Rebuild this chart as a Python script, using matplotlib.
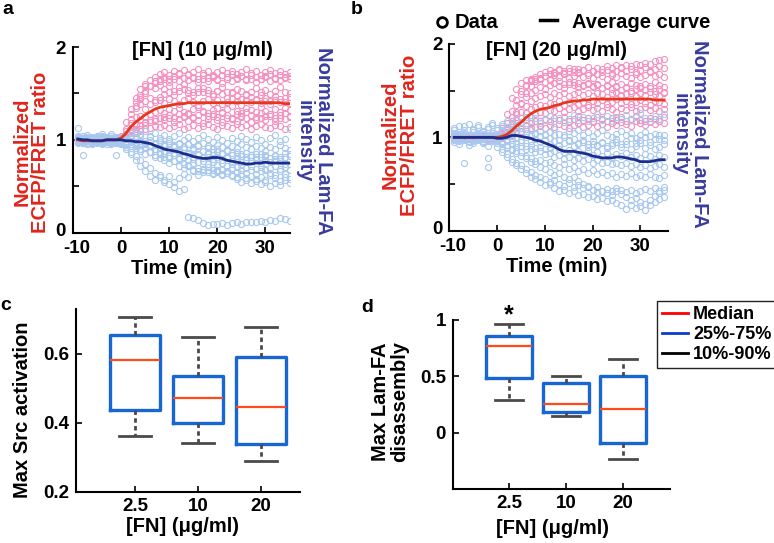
import matplotlib
matplotlib.use("Agg")
import matplotlib.pyplot as plt
from matplotlib.lines import Line2D
from matplotlib.transforms import ScaledTranslation

# ---------------------------------------------------------------- data
time_min = [-9, -8, -7, -6, -5, -4, -3, -2, -1,
            0, 1, 2, 3, 4, 5, 6, 7, 8,
            9, 10, 11, 12, 13, 14, 15, 16, 17,
            18, 19, 20, 21, 22, 23, 24, 25, 26,
            27, 28, 29, 30, 31, 32, 33, 34, 35]

# panel a, [FN] 10 ug/ml : single-cell ECFP/FRET ratio traces
fret_10 = [
    [1.00, 1.01, 0.99, 1.00, 1.02, 0.99, 1.00, 1.01, 1.00,
     1.01, 1.06, 1.18, 1.34, 1.48, 1.58, 1.64, 1.68, 1.71,
     1.73, 1.70, 1.74, 1.72, 1.75, 1.71, 1.73, 1.76, 1.72,
     1.74, 1.70, 1.73, 1.75, 1.72, 1.74, 1.71, 1.73, 1.76,
     1.72, 1.74, 1.70, 1.73, 1.75, 1.72, 1.74, 1.71, 1.73],
    [0.99, 1.00, 1.01, 0.98, 1.00, 1.01, 0.99, 1.00, 1.02,
     1.03, 1.10, 1.22, 1.36, 1.46, 1.53, 1.58, 1.61, 1.63,
     1.65, 1.62, 1.66, 1.63, 1.60, 1.64, 1.67, 1.62, 1.65,
     1.63, 1.68, 1.64, 1.61, 1.66, 1.63, 1.65, 1.69, 1.64,
     1.66, 1.62, 1.65, 1.68, 1.63, 1.66, 1.64, 1.67, 1.65],
    [1.01, 0.99, 1.00, 1.02, 0.98, 1.00, 1.01, 0.99, 1.00,
     1.00, 1.03, 1.09, 1.17, 1.26, 1.33, 1.39, 1.43, 1.46,
     1.49, 1.51, 1.48, 1.53, 1.55, 1.50, 1.52, 1.56, 1.51,
     1.54, 1.49, 1.53, 1.57, 1.52, 1.50, 1.55, 1.53, 1.48,
     1.52, 1.56, 1.51, 1.54, 1.49, 1.53, 1.57, 1.52, 1.50],
    [1.00, 1.02, 0.99, 1.01, 1.00, 0.98, 1.01, 1.00, 0.99,
     1.04, 1.19, 1.33, 1.41, 1.44, 1.42, 1.45, 1.41, 1.43,
     1.40, 1.44, 1.42, 1.39, 1.43, 1.45, 1.41, 1.38, 1.42,
     1.44, 1.40, 1.43, 1.39, 1.41, 1.45, 1.42, 1.38, 1.43,
     1.41, 1.44, 1.40, 1.42, 1.39, 1.43, 1.41, 1.45, 1.40],
    [0.98, 1.00, 1.01, 0.99, 1.00, 1.02, 1.00, 0.99, 1.01,
     1.02, 1.05, 1.10, 1.16, 1.21, 1.25, 1.28, 1.30, 1.32,
     1.29, 1.33, 1.31, 1.34, 1.30, 1.28, 1.33, 1.35, 1.31,
     1.29, 1.32, 1.34, 1.30, 1.33, 1.36, 1.31, 1.29, 1.34,
     1.32, 1.30, 1.35, 1.31, 1.28, 1.33, 1.30, 1.34, 1.32],
    [1.00, 0.99, 1.01, 1.00, 0.98, 1.01, 1.00, 1.02, 0.99,
     1.01, 1.03, 1.07, 1.12, 1.16, 1.19, 1.21, 1.20, 1.23,
     1.21, 1.24, 1.19, 1.22, 1.25, 1.20, 1.23, 1.21, 1.18,
     1.22, 1.26, 1.21, 1.19, 1.24, 1.22, 1.20, 1.25, 1.23,
     1.19, 1.22, 1.24, 1.21, 1.26, 1.20, 1.23, 1.22, 1.25],
    [1.01, 1.00, 0.99, 1.02, 1.00, 1.01, 0.99, 1.00, 1.00,
     0.99, 1.01, 1.04, 1.07, 1.10, 1.12, 1.13, 1.15, 1.14,
     1.16, 1.13, 1.15, 1.17, 1.12, 1.14, 1.16, 1.13, 1.15,
     1.17, 1.14, 1.12, 1.16, 1.15, 1.13, 1.17, 1.14, 1.16,
     1.12, 1.15, 1.17, 1.14, 1.13, 1.16, 1.15, 1.12, 1.14],
    [0.99, 1.01, 1.00, 0.98, 1.01, 1.00, 1.02, 0.99, 1.01,
     1.02, 1.12, 1.28, 1.45, 1.55, 1.60, 1.58, 1.56, 1.59,
     1.55, 1.58, 1.53, 1.57, 1.60, 1.54, 1.48, 1.52, 1.56,
     1.50, 1.47, 1.53, 1.49, 1.45, 1.51, 1.47, 1.44, 1.49,
     1.46, 1.43, 1.48, 1.45, 1.42, 1.47, 1.44, 1.41, 1.46],
    [1.00, 1.01, 0.99, 1.00, 1.01, 0.98, 1.00, 1.01, 0.99,
     1.00, 1.02, 1.04, 1.08, 1.12, 1.16, 1.19, 1.22, 1.24,
     1.25, 1.27, 1.24, 1.28, 1.26, 1.29, 1.25, 1.27, 1.30,
     1.26, 1.28, 1.25, 1.29, 1.27, 1.24, 1.28, 1.26, 1.30,
     1.27, 1.25, 1.29, 1.26, 1.28, 1.24, 1.27, 1.29, 1.26],
    [1.00, 0.99, 1.00, 1.01, 0.99, 1.00, 1.02, 1.00, 0.98,
     1.01, 1.04, 1.12, 1.25, 1.39, 1.50, 1.58, 1.63, 1.66,
     1.68, 1.66, 1.69, 1.71, 1.67, 1.70, 1.68, 1.66, 1.70,
     1.67, 1.69, 1.66, 1.70, 1.68, 1.71, 1.67, 1.69, 1.66,
     1.70, 1.68, 1.66, 1.69, 1.71, 1.67, 1.70, 1.68, 1.69],
]

# panel a : single-cell Lam-FA intensity traces
lamfa_10 = [
    [1.03, 0.98, 1.05, 1.01, 0.97, 1.04, 1.00, 1.06, 0.99,
     1.02, 1.05, 1.08, 1.03, 1.06, 1.10, 1.04, 1.07, 1.02,
     1.05, 1.01, 1.04, 1.07, 1.00, 1.03, 0.99, 1.02, 1.05,
     1.01, 0.98, 1.03, 1.00, 0.97, 1.02, 0.99, 1.04, 1.01,
     0.98, 1.03, 1.00, 0.96, 1.02, 1.05, 0.99, 1.01, 1.12],
    [0.98, 1.02, 0.96, 1.00, 1.03, 0.97, 1.01, 0.99, 1.02,
     1.00, 0.98, 1.01, 0.97, 0.99, 0.96, 1.00, 0.95, 0.98,
     0.94, 0.97, 0.93, 0.96, 0.92, 0.95, 0.91, 0.94, 0.97,
     0.93, 0.90, 0.94, 0.92, 0.89, 0.93, 0.91, 0.95, 0.92,
     0.90, 0.93, 0.91, 0.88, 0.92, 0.90, 0.94, 0.91, 0.89],
    [1.01, 0.97, 1.03, 0.99, 1.02, 0.95, 1.00, 1.04, 0.98,
     0.99, 1.01, 0.96, 0.98, 0.94, 0.97, 0.93, 0.95, 0.91,
     0.93, 0.89, 0.92, 0.88, 0.90, 0.86, 0.89, 0.85, 0.88,
     0.86, 0.84, 0.87, 0.85, 0.82, 0.86, 0.83, 0.85, 0.81,
     0.84, 0.82, 0.85, 0.83, 0.80, 0.84, 0.82, 0.86, 0.83],
    [0.99, 1.04, 1.00, 0.96, 1.01, 1.03, 0.98, 1.00, 0.97,
     1.01, 0.97, 0.99, 0.95, 0.96, 0.92, 0.94, 0.90, 0.91,
     0.88, 0.90, 0.86, 0.87, 0.84, 0.85, 0.82, 0.84, 0.80,
     0.82, 0.79, 0.81, 0.78, 0.80, 0.77, 0.79, 0.76, 0.78,
     0.77, 0.79, 0.75, 0.78, 0.76, 0.79, 0.77, 0.74, 0.78],
    [1.02, 0.99, 1.01, 0.97, 1.00, 1.02, 0.99, 0.96, 1.01,
     0.98, 0.96, 0.93, 0.94, 0.90, 0.91, 0.87, 0.88, 0.85,
     0.86, 0.83, 0.84, 0.80, 0.81, 0.78, 0.79, 0.76, 0.77,
     0.74, 0.76, 0.73, 0.75, 0.72, 0.74, 0.71, 0.73, 0.70,
     0.72, 0.69, 0.71, 0.68, 0.70, 0.72, 0.69, 0.71, 0.68],
    [1.00, 0.97, 1.02, 1.00, 0.98, 1.01, 1.03, 0.99, 1.00,
     0.97, 0.94, 0.95, 0.91, 0.88, 0.85, 0.87, 0.82, 0.80,
     0.78, 0.75, 0.77, 0.72, 0.70, 0.73, 0.68, 0.66, 0.69,
     0.65, 0.63, 0.66, 0.62, 0.64, 0.61, 0.60, 0.63, 0.59,
     0.61, 0.58, 0.60, 0.57, 0.62, 0.59, 0.56, 0.60, 0.58],
    [0.97, 1.01, 0.99, 1.03, 0.98, 1.00, 0.96, 1.02, 1.00,
     0.95, 0.90, 0.85, 0.78, 0.72, 0.66, 0.61, 0.57, 0.62,
     0.55, 0.52, 0.49, 0.45, 0.47, 0.17, 0.16, 0.14, 0.10,
     0.08, 0.09, 0.09, 0.10, 0.08, 0.10, 0.11, 0.09, 0.11,
     0.12, 0.11, 0.13, 0.12, 0.14, 0.13, 0.16, 0.15, 0.13],
    [1.04, 1.00, 0.97, 1.02, 0.99, 1.06, 1.01, 0.98, 1.03,
     1.00, 0.96, 0.98, 0.93, 0.90, 0.92, 0.87, 0.84, 0.86,
     0.82, 0.80, 0.77, 0.79, 0.74, 0.72, 0.75, 0.70, 0.68,
     0.71, 0.67, 0.65, 0.68, 0.64, 0.62, 0.58, 0.55, 0.57,
     0.53, 0.56, 0.52, 0.55, 0.50, 0.54, 0.51, 0.57, 0.53],
    [1.13, 1.02, 1.00, 0.98, 1.04, 0.99, 1.02, 0.97, 0.84,
     1.03, 1.06, 1.02, 1.08, 1.04, 0.99, 1.03, 0.97, 1.00,
     0.96, 0.99, 0.94, 0.97, 0.92, 0.95, 0.90, 0.93, 0.88,
     0.91, 0.87, 0.90, 0.86, 0.88, 0.84, 0.87, 0.83, 0.86,
     0.82, 0.85, 0.81, 0.84, 0.80, 0.83, 0.79, 0.82, 0.85],
    [1.00, 0.84, 1.01, 0.99, 1.02, 0.98, 1.00, 1.01, 0.97,
     0.96, 0.92, 0.87, 0.83, 0.78, 0.74, 0.70, 0.64, 0.60,
     0.57, 0.61, 0.55, 0.59, 0.63, 0.60, 0.66, 0.62, 0.65,
     0.68, 0.64, 0.67, 0.63, 0.66, 0.70, 0.65, 0.68, 0.64,
     0.67, 0.63, 0.66, 0.69, 0.64, 0.62, 0.66, 0.63, 0.67],
]

# panel b, [FN] 20 ug/ml
fret_20 = [
    [1.00, 1.01, 0.99, 1.00, 1.02, 0.99, 1.00, 1.01, 0.99,
     1.00, 1.03, 1.10, 1.22, 1.35, 1.46, 1.55, 1.61, 1.65,
     1.68, 1.70, 1.72, 1.69, 1.73, 1.71, 1.74, 1.70, 1.73,
     1.72, 1.75, 1.71, 1.74, 1.73, 1.76, 1.74, 1.77, 1.75,
     1.78, 1.76, 1.79, 1.77, 1.80, 1.79, 1.82, 1.83, 1.84],
    [0.99, 1.00, 1.01, 1.00, 0.98, 1.01, 1.00, 0.99, 1.01,
     1.01, 1.05, 1.15, 1.28, 1.40, 1.50, 1.56, 1.60, 1.62,
     1.64, 1.66, 1.63, 1.67, 1.65, 1.68, 1.64, 1.66, 1.69,
     1.65, 1.67, 1.64, 1.68, 1.66, 1.63, 1.67, 1.65, 1.69,
     1.66, 1.64, 1.68, 1.65, 1.67, 1.70, 1.66, 1.68, 1.65],
    [1.01, 0.99, 1.00, 1.02, 1.00, 0.99, 1.01, 1.00, 1.00,
     0.99, 1.02, 1.08, 1.17, 1.27, 1.36, 1.43, 1.48, 1.51,
     1.54, 1.52, 1.56, 1.58, 1.55, 1.53, 1.57, 1.59, 1.54,
     1.56, 1.58, 1.55, 1.57, 1.53, 1.56, 1.59, 1.55, 1.57,
     1.54, 1.58, 1.56, 1.53, 1.57, 1.55, 1.59, 1.56, 1.54],
    [1.00, 1.00, 0.99, 1.01, 1.00, 1.02, 0.99, 1.00, 1.01,
     1.00, 1.01, 1.05, 1.11, 1.19, 1.27, 1.34, 1.39, 1.42,
     1.44, 1.46, 1.43, 1.47, 1.45, 1.48, 1.44, 1.46, 1.49,
     1.45, 1.47, 1.44, 1.48, 1.46, 1.43, 1.47, 1.49, 1.45,
     1.46, 1.48, 1.44, 1.47, 1.45, 1.49, 1.46, 1.44, 1.47],
    [0.99, 1.01, 1.00, 0.99, 1.01, 1.00, 1.00, 0.98, 1.00,
     1.01, 1.02, 1.04, 1.09, 1.15, 1.21, 1.26, 1.30, 1.33,
     1.35, 1.34, 1.37, 1.36, 1.39, 1.35, 1.38, 1.40, 1.36,
     1.38, 1.35, 1.39, 1.37, 1.40, 1.36, 1.38, 1.41, 1.37,
     1.39, 1.36, 1.38, 1.40, 1.37, 1.35, 1.39, 1.38, 1.36],
    [1.00, 0.99, 1.01, 1.00, 1.00, 1.01, 0.99, 1.00, 1.01,
     1.00, 1.01, 1.03, 1.06, 1.10, 1.15, 1.19, 1.22, 1.25,
     1.27, 1.26, 1.29, 1.28, 1.31, 1.27, 1.30, 1.32, 1.28,
     1.30, 1.33, 1.29, 1.31, 1.28, 1.32, 1.30, 1.27, 1.31,
     1.29, 1.32, 1.28, 1.30, 1.33, 1.29, 1.31, 1.28, 1.30],
    [1.01, 1.00, 1.00, 0.99, 1.00, 1.01, 1.00, 0.99, 1.00,
     0.99, 1.00, 1.02, 1.04, 1.07, 1.10, 1.13, 1.15, 1.17,
     1.18, 1.20, 1.17, 1.21, 1.19, 1.22, 1.18, 1.20, 1.23,
     1.19, 1.21, 1.18, 1.22, 1.20, 1.17, 1.21, 1.19, 1.22,
     1.18, 1.20, 1.23, 1.19, 1.17, 1.21, 1.20, 1.18, 1.22],
    [1.00, 1.01, 0.99, 1.00, 1.00, 0.99, 1.01, 1.00, 1.00,
     1.00, 1.00, 1.01, 1.03, 1.05, 1.07, 1.09, 1.10, 1.11,
     1.12, 1.10, 1.13, 1.11, 1.14, 1.12, 1.10, 1.13, 1.15,
     1.11, 1.13, 1.16, 1.12, 1.14, 1.11, 1.15, 1.13, 1.16,
     1.14, 1.12, 1.17, 1.15, 1.13, 1.16, 1.14, 1.17, 1.15],
    [1.00, 0.99, 1.00, 1.01, 1.00, 1.00, 0.99, 1.01, 1.00,
     1.02, 1.10, 1.25, 1.42, 1.52, 1.58, 1.61, 1.63, 1.60,
     1.62, 1.59, 1.61, 1.58, 1.60, 1.57, 1.59, 1.56, 1.58,
     1.55, 1.57, 1.54, 1.56, 1.53, 1.55, 1.52, 1.54, 1.51,
     1.53, 1.50, 1.52, 1.55, 1.51, 1.53, 1.50, 1.52, 1.49],
    [1.00, 1.00, 1.01, 0.99, 1.00, 1.00, 1.01, 1.00, 0.99,
     1.00, 1.02, 1.06, 1.14, 1.25, 1.37, 1.47, 1.55, 1.60,
     1.63, 1.66, 1.68, 1.70, 1.72, 1.69, 1.71, 1.73, 1.70,
     1.72, 1.69, 1.71, 1.68, 1.70, 1.72, 1.69, 1.71, 1.74,
     1.71, 1.73, 1.70, 1.72, 1.75, 1.71, 1.73, 1.76, 1.74],
]

lamfa_20 = [
    [1.08, 1.12, 1.05, 1.14, 1.09, 1.13, 1.06, 1.11, 1.15,
     1.10, 1.14, 1.18, 1.13, 1.20, 1.16, 1.22, 1.17, 1.21,
     1.15, 1.19, 1.23, 1.18, 1.21, 1.16, 1.20, 1.24, 1.19,
     1.22, 1.17, 1.21, 1.25, 1.19, 1.23, 1.18, 1.22, 1.20,
     1.24, 1.19, 1.22, 1.26, 1.21, 1.18, 1.23, 1.20, 1.25],
    [1.02, 0.97, 1.04, 1.00, 1.06, 0.98, 1.03, 1.01, 1.05,
     1.03, 1.07, 1.04, 1.09, 1.06, 1.10, 1.05, 1.08, 1.04,
     1.07, 1.03, 1.06, 1.09, 1.04, 1.02, 1.07, 1.05, 1.08,
     1.03, 1.06, 1.01, 1.05, 1.08, 1.03, 1.00, 1.04, 1.07,
     1.02, 1.05, 0.99, 1.03, 1.06, 1.01, 1.04, 0.98, 1.02],
    [0.95, 1.01, 0.98, 1.03, 0.96, 1.00, 0.94, 0.99, 1.02,
     0.98, 1.02, 1.05, 1.01, 0.99, 0.97, 1.00, 0.96, 0.98,
     0.95, 0.97, 0.93, 0.96, 0.92, 0.94, 0.97, 0.91, 0.93,
     0.95, 0.90, 0.93, 0.91, 0.94, 0.89, 0.92, 0.95, 0.90,
     0.93, 0.88, 0.91, 0.94, 0.89, 0.92, 0.87, 0.90, 0.93],
    [0.98, 0.93, 1.00, 0.96, 1.02, 0.97, 0.99, 0.91, 0.97,
     0.96, 0.99, 1.01, 0.97, 0.94, 0.95, 0.91, 0.92, 0.89,
     0.90, 0.87, 0.89, 0.85, 0.88, 0.84, 0.86, 0.83, 0.85,
     0.82, 0.85, 0.81, 0.84, 0.80, 0.83, 0.79, 0.82, 0.80,
     0.83, 0.79, 0.81, 0.78, 0.82, 0.80, 0.77, 0.81, 0.79],
    [1.00, 0.96, 1.03, 0.92, 0.98, 1.01, 0.95, 1.00, 0.97,
     0.99, 0.95, 0.97, 0.93, 0.90, 0.91, 0.87, 0.88, 0.84,
     0.85, 0.82, 0.83, 0.79, 0.81, 0.77, 0.79, 0.76, 0.78,
     0.75, 0.77, 0.73, 0.76, 0.72, 0.74, 0.71, 0.73, 0.70,
     0.72, 0.69, 0.71, 0.68, 0.70, 0.67, 0.69, 0.71, 0.68],
    [0.97, 1.04, 0.99, 1.01, 0.94, 1.03, 0.98, 1.02, 0.96,
     0.97, 0.93, 0.90, 0.86, 0.83, 0.84, 0.80, 0.78, 0.75,
     0.76, 0.72, 0.74, 0.70, 0.68, 0.71, 0.66, 0.68, 0.64,
     0.66, 0.62, 0.65, 0.61, 0.63, 0.60, 0.62, 0.58, 0.61,
     0.59, 0.62, 0.58, 0.60, 0.57, 0.61, 0.58, 0.56, 0.60],
    [1.01, 0.98, 0.72, 1.00, 0.97, 1.02, 0.99, 0.96, 1.00,
     0.94, 0.88, 0.82, 0.77, 0.73, 0.70, 0.66, 0.63, 0.60,
     0.57, 0.55, 0.52, 0.54, 0.50, 0.48, 0.51, 0.47, 0.49,
     0.46, 0.48, 0.44, 0.47, 0.43, 0.45, 0.42, 0.46, 0.44,
     0.41, 0.44, 0.40, 0.43, 0.45, 0.42, 0.46, 0.43, 0.47],
    [0.99, 1.03, 0.97, 1.01, 0.99, 1.04, 0.96, 0.68, 1.01,
     0.90, 0.84, 0.79, 0.74, 0.70, 0.66, 0.62, 0.58, 0.55,
     0.52, 0.49, 0.50, 0.46, 0.43, 0.44, 0.40, 0.42, 0.38,
     0.39, 0.36, 0.37, 0.34, 0.35, 0.32, 0.33, 0.30, 0.28,
     0.23, 0.27, 0.24, 0.26, 0.22, 0.28, 0.31, 0.34, 0.36],
    [1.05, 1.00, 1.08, 0.95, 1.03, 0.99, 1.07, 0.78, 0.98,
     1.00, 0.96, 0.92, 0.88, 0.85, 0.80, 0.78, 0.74, 0.71,
     0.68, 0.66, 0.63, 0.60, 0.62, 0.58, 0.55, 0.57, 0.53,
     0.50, 0.47, 0.44, 0.41, 0.43, 0.40, 0.38, 0.42, 0.39,
     0.36, 0.33, 0.35, 0.31, 0.29, 0.33, 0.37, 0.40, 0.44],
    [1.10, 1.06, 1.12, 1.03, 1.08, 1.11, 1.04, 1.09, 1.13,
     1.08, 1.12, 1.09, 1.14, 1.10, 1.06, 1.09, 1.03, 1.05,
     1.01, 1.04, 0.99, 1.02, 0.97, 1.00, 0.96, 0.98, 0.94,
     0.97, 0.93, 0.96, 0.92, 0.95, 0.91, 0.94, 0.98, 0.93,
     0.96, 0.99, 0.94, 0.97, 1.00, 0.95, 0.98, 1.02, 0.97],
]

# average curves
fret_avg_10 = [1.00, 0.99, 0.99, 0.99, 0.99, 0.99, 1.00, 1.00, 1.00,
               1.02, 1.07, 1.14, 1.19, 1.23, 1.27, 1.30, 1.33, 1.35,
               1.36, 1.37, 1.38, 1.39, 1.39, 1.40, 1.40, 1.40, 1.40,
               1.40, 1.40, 1.40, 1.40, 1.40, 1.40, 1.40, 1.40, 1.40,
               1.40, 1.40, 1.40, 1.40, 1.40, 1.40, 1.40, 1.39, 1.39]
lamfa_avg_10 = [1.01, 1.00, 1.00, 0.99, 0.99, 0.99, 1.00, 1.00, 1.00,
                1.00, 0.99, 0.99, 0.98, 0.98, 0.97, 0.96, 0.94, 0.92,
                0.90, 0.89, 0.88, 0.87, 0.85, 0.84, 0.82, 0.81, 0.80,
                0.80, 0.81, 0.81, 0.80, 0.78, 0.77, 0.76, 0.75, 0.74,
                0.74, 0.75, 0.75, 0.76, 0.75, 0.75, 0.75, 0.75, 0.75]
fret_avg_20 = [1.00, 1.00, 1.00, 1.00, 1.00, 1.00, 1.00, 1.00, 1.00,
               1.00, 1.01, 1.03, 1.07, 1.12, 1.16, 1.21, 1.25, 1.28,
               1.30, 1.31, 1.32, 1.34, 1.35, 1.37, 1.38, 1.39, 1.39,
               1.40, 1.40, 1.41, 1.41, 1.41, 1.41, 1.41, 1.41, 1.41,
               1.41, 1.41, 1.41, 1.41, 1.41, 1.41, 1.40, 1.40, 1.40]
lamfa_avg_20 = [1.00, 1.00, 1.00, 1.00, 1.00, 1.00, 1.00, 1.00, 1.00,
                0.99, 0.99, 1.00, 1.02, 1.02, 1.01, 1.00, 0.99, 0.97,
                0.96, 0.94, 0.92, 0.90, 0.87, 0.85, 0.85, 0.85, 0.84,
                0.83, 0.82, 0.80, 0.79, 0.78, 0.78, 0.78, 0.79, 0.79,
                0.78, 0.77, 0.76, 0.74, 0.74, 0.74, 0.75, 0.76, 0.76]

# box plots (10%, 25%, median, 75%, 90%)
fn_labels = ["2.5", "10", "20"]
src_p10 = [0.362, 0.343, 0.290]
src_q1 = [0.438, 0.401, 0.339]
src_med = [0.581, 0.472, 0.445]
src_q3 = [0.655, 0.536, 0.592]
src_p90 = [0.708, 0.650, 0.677]

lam_p10 = [0.292, 0.150, -0.233]
lam_q1 = [0.489, 0.186, -0.091]
lam_med = [0.770, 0.257, 0.212]
lam_q3 = [0.858, 0.440, 0.504]
lam_p90 = [0.962, 0.504, 0.655]

# ---------------------------------------------------------------- style
plt.rcParams["font.family"] = ["Liberation Sans", "DejaVu Sans"]
plt.rcParams["font.weight"] = "bold"
plt.rcParams["axes.unicode_minus"] = False

PINK = "#f591c0"
LIGHTBLUE = "#a8c8ee"
RED_LINE = "#e8361a"
NAVY_LINE = "#1c2d8c"
RED_TXT = "#e2241c"
BLUE_TXT = "#3a3c9e"
BOX_BLUE = "#1866d4"
MED_RED = "#ff4a1a"
WHISK = "#4a4a4a"
FS = 14.5
TICK_FS = 13.5

W, H = 774, 543
fig = plt.figure(figsize=(W / 100, H / 100), dpi=100)


def px_axes(left, top, right, bottom):
    return fig.add_axes([left / W, 1 - bottom / H, (right - left) / W, (bottom - top) / H])


def txt(x, y, s, **kw):
    kw.setdefault("fontsize", FS)
    kw.setdefault("fontweight", "bold")
    kw.setdefault("ha", "center")
    kw.setdefault("va", "center")
    fig.text(x / W, 1 - y / H, s, **kw)


def style_axes(ax, xpad=4):
    for side in ("top", "right"):
        ax.spines[side].set_visible(False)
    for side in ("left", "bottom"):
        ax.spines[side].set_linewidth(1.5)
    ax.tick_params(which="both", direction="in", width=1.2, labelsize=TICK_FS, length=4)
    ax.tick_params(axis="x", pad=xpad)
    ax.tick_params(axis="y", pad=5)
    for lab in ax.get_xticklabels() + ax.get_yticklabels():
        lab.set_fontweight("bold")


def time_panel(ax, fret, lamfa, fret_avg, lamfa_avg, xmax):
    for tr in fret:
        ax.plot(time_min[:len(tr)], tr, "o", ms=4.4, mfc="none", mec=PINK, mew=0.8)
    for tr in lamfa:
        ax.plot(time_min[:len(tr)], tr, "o", ms=4.4, mfc="none", mec=LIGHTBLUE, mew=0.8)
    ax.plot(time_min, fret_avg, color=RED_LINE, lw=2.0)
    ax.plot(time_min, lamfa_avg, color=NAVY_LINE, lw=2.0)
    ax.set_xlim(-10, xmax)
    ax.set_ylim(0, 2)
    ax.set_xticks([-10, 0, 10, 20, 30])
    ax.set_yticks([0, 1, 2])
    ax.set_yticks([0.5, 1.5], minor=True)
    style_axes(ax, xpad=5.5)
    # the corner labels "0" and "-10" sit close together: nudge them apart a little
    ylab0 = ax.yaxis.get_majorticklabels()[0]
    ylab0.set_transform(ylab0.get_transform() + ScaledTranslation(0, 2.5 / 72, fig.dpi_scale_trans))
    xlab0 = ax.xaxis.get_majorticklabels()[0]
    xlab0.set_transform(xlab0.get_transform() + ScaledTranslation(2.5 / 72, 0, fig.dpi_scale_trans))


def box_panel(ax, p10, q1, med, q3, p90):
    stats = []
    for i in range(len(med)):
        stats.append({"whislo": p10[i], "q1": q1[i], "med": med[i],
                      "q3": q3[i], "whishi": p90[i], "fliers": []})
    ax.bxp(stats, positions=[1, 2, 3], widths=0.8, capwidths=0.5, showfliers=False,
           boxprops=dict(color=BOX_BLUE, linewidth=2.4),
           medianprops=dict(color=MED_RED, linewidth=1.6),
           whiskerprops=dict(color=WHISK, linewidth=2.0, linestyle=(0, (1.6, 1.2))),
           capprops=dict(color=WHISK, linewidth=2.0))
    ax.set_xticks([1, 2, 3])
    ax.set_xticklabels(fn_labels)
    style_axes(ax)


# panel a
ax_a = px_axes(73, 47, 290, 232.7)
time_panel(ax_a, fret_10, lamfa_10, fret_avg_10, lamfa_avg_10, 35.1)

# panel b
ax_b = px_axes(449.5, 44, 668, 230.7)
time_panel(ax_b, fret_20, lamfa_20, fret_avg_20, lamfa_avg_20, 35.8)

# panel c
ax_c = px_axes(76, 309, 300, 492)
box_panel(ax_c, src_p10, src_q1, src_med, src_q3, src_p90)
ax_c.set_xlim(0.06, 3.62)
ax_c.set_ylim(0.2, 0.73)
ax_c.set_yticks([0.2, 0.4, 0.6])
ax_c.set_yticklabels(["0.2", "0.4", "0.6"], fontweight="bold")

# panel d
ax_d = px_axes(453, 320, 670, 489)
box_panel(ax_d, lam_p10, lam_q1, lam_med, lam_q3, lam_p90)
ax_d.set_xlim(0.02, 3.82)
ax_d.set_ylim(-0.5, 1.0)
ax_d.set_yticks([0, 0.5, 1])
ax_d.set_yticklabels(["0", "0.5", "1"], fontweight="bold")
ax_d.text(1, lam_p90[0] + 0.08, "*", ha="center", va="center", fontsize=18,
          fontweight="bold", clip_on=False)

# legend of panel d
handles = [Line2D([], [], color="#ff0000", lw=2),
           Line2D([], [], color="#0a3ccc", lw=2),
           Line2D([], [], color="black", lw=2)]
leg = ax_d.legend(handles, ["Median", "25%-75%", "10%-90%"], loc="upper left",
                  bbox_to_anchor=(657 / W, 1 - 301 / H), bbox_transform=fig.transFigure,
                  frameon=True, fancybox=False, edgecolor="#222222", framealpha=1,
                  handlelength=1.4, handletextpad=0.3, labelspacing=0.15,
                  borderpad=0.3, borderaxespad=0, prop=dict(size=13, weight="bold"))
leg.get_frame().set_linewidth(1.0)

# legend of panel b (drawn as a key above the axes)
fig.add_artist(Line2D([442 / W], [1 - 22 / H], marker="o", ms=7, mfc="none", mec="black",
                      mew=2, transform=fig.transFigure))
txt(455, 22, "Data", ha="left")
fig.add_artist(Line2D([540 / W, 557 / W], [1 - 20 / H, 1 - 20 / H], color="black", lw=2.5,
                      transform=fig.transFigure))
txt(572, 22, "Average curve", ha="left")

# titles, axis labels and panel letters
txt(202, 50, "[FN] (10 μg/ml)")
txt(556, 51, "[FN] (20 μg/ml)")
txt(182, 268, "Time (min)")
txt(557, 267, "Time (min)")
txt(31.5, 152, "Normalized\nECFP/FRET ratio", rotation=90, color=RED_TXT, linespacing=1.0)
txt(400, 135, "Normalized\nECFP/FRET ratio", rotation=90, color=RED_TXT, linespacing=1.0)
txt(314, 141, "Normalized Lam-FA\nintensity", rotation=-90, color=BLUE_TXT, linespacing=1.0)
txt(690, 134, "Normalized Lam-FA\nintensity", rotation=-90, color=BLUE_TXT, linespacing=1.0)
txt(23, 410, "Max Src activation", rotation=90)
txt(390, 402, "Max Lam-FA\ndisassembly", rotation=90, linespacing=1.0)
txt(183, 527, "[FN] (μg/ml)")
txt(553, 528, "[FN] (μg/ml)")
txt(8, 10, "a", fontsize=14)
txt(357, 10, "b", fontsize=14)
txt(6, 305, "c", fontsize=14)
txt(367, 308, "d", fontsize=14)

fig.savefig("out.png", dpi=100)
